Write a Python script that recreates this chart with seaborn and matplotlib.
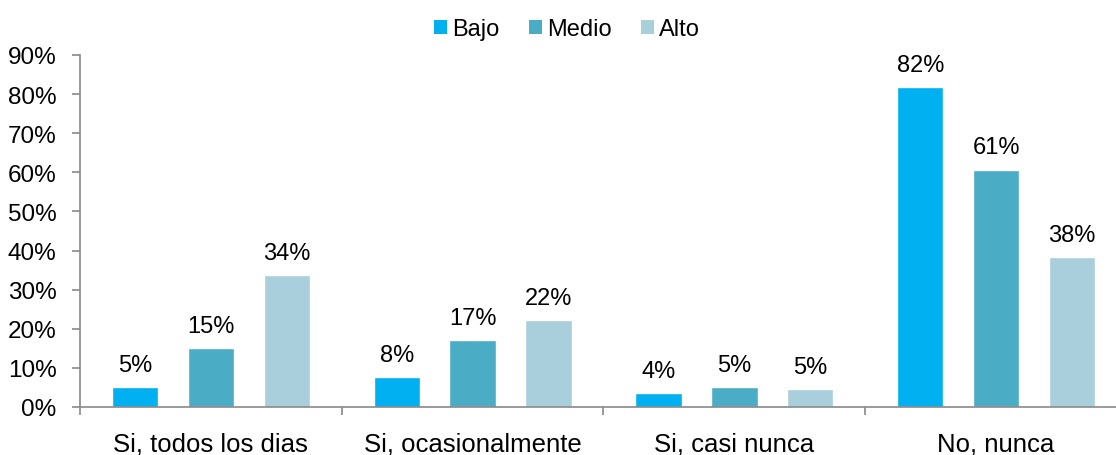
import matplotlib
matplotlib.use("Agg")
import matplotlib.pyplot as plt
import matplotlib.patches as mpatches
from matplotlib.ticker import FixedLocator, FuncFormatter
import seaborn as sns
import pandas as pd

categories = ["Si, todos los dias", "Si, ocasionalmente", "Si, casi nunca", "No, nunca"]
levels = ["Bajo", "Medio", "Alto"]
bajo = [5.1, 7.7, 3.6, 81.9]
medio = [15.0, 17.1, 5.2, 60.7]
alto = [33.8, 22.2, 4.6, 38.3]
colors = ["#00B0F0", "#4BACC6", "#A9CFDD"]
yticks = [0, 10, 20, 30, 40, 50, 60, 70, 80, 90]

rows = []
for lvl, vals in zip(levels, [bajo, medio, alto]):
    for c, v in zip(categories, vals):
        rows.append({"cat": c, "level": lvl, "value": v})
df = pd.DataFrame(rows)

sns.set_theme(style="white")
plt.rcParams["font.family"] = ["Liberation Sans", "DejaVu Sans"]
plt.rcParams["text.color"] = "#000000"

fig = plt.figure(figsize=(11.16, 4.56), dpi=100)
W, H = 1116, 456
left, right, top, bottom = 80, 1116, 56, 408
ax = fig.add_axes([left / W, (H - bottom) / H, (right - left) / W, (bottom - top) / H])

sns.barplot(data=df, x="cat", y="value", hue="level", order=categories,
            hue_order=levels, palette=colors, width=0.87, gap=0.39,
            errorbar=None, ax=ax, legend=False, saturation=1)

for cont in ax.containers:
    ax.bar_label(cont, labels=[f"{b.get_height():.0f}%" for b in cont],
                 padding=8, fontsize=17, color="#000000")

ax.set_ylim(0, 90)
ax.set_xlim(-0.5, 3.458)
ax.set_yticks(yticks)
ax.yaxis.set_major_formatter(FuncFormatter(lambda v, p: f"{v:.0f}%"))
ax.set_xticks(range(len(categories)))
ax.set_xticklabels(categories)
ax.xaxis.set_minor_locator(FixedLocator([-0.5, 0.5, 1.5, 2.5]))
ax.tick_params(axis="x", which="major", length=0, pad=17.5, labelsize=18.5, colors="#000000")
ax.tick_params(axis="x", which="minor", length=6, width=1.2, color="#898989", direction="out", bottom=True)
ax.tick_params(axis="y", which="major", length=6, width=1.2, color="#898989", direction="out",
               pad=11, labelsize=17.5, labelcolor="#000000", left=True)
ax.set_xlabel("")
ax.set_ylabel("")
for s in ["top", "right"]:
    ax.spines[s].set_visible(False)
for s in ["left", "bottom"]:
    ax.spines[s].set_color("#898989")
    ax.spines[s].set_linewidth(1.2)
ax.grid(False)

handles = [mpatches.Patch(facecolor=c, edgecolor="none", label=l) for c, l in zip(colors, levels)]
leg = fig.legend(handles=handles, loc="center", bbox_to_anchor=(0.508, 1 - 30 / H),
                 ncol=3, frameon=False, fontsize=17, handlelength=0.55, handleheight=0.55,
                 handletextpad=0.2, columnspacing=1.25, borderaxespad=0, borderpad=0)
for t in leg.get_texts():
    t.set_color("#000000")

fig.savefig("out.png", dpi=100)
